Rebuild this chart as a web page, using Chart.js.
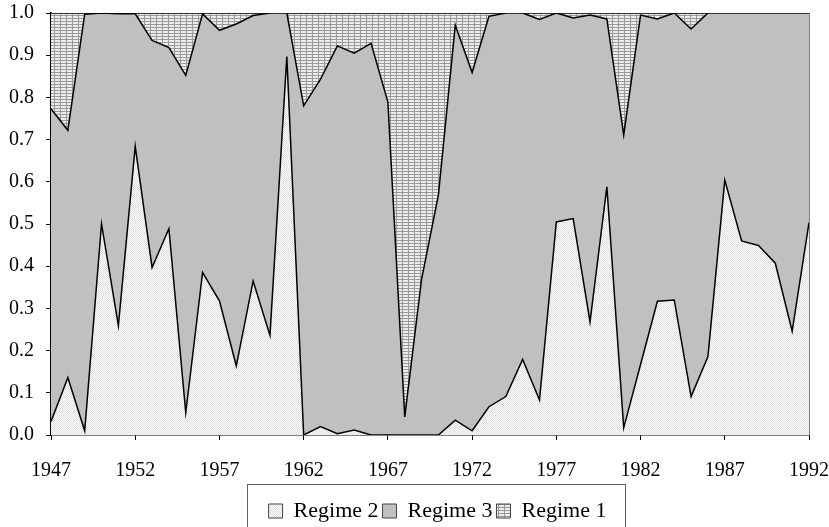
<!DOCTYPE html>
<html>
<head>
<meta charset="utf-8">
<script src="https://cdn.jsdelivr.net/npm/chart.js@4.4.1/dist/chart.umd.min.js"></script>
<style>
  html, body { margin: 0; padding: 0; background: #fff; }
  #wrap { width: 829px; height: 527px; }
</style>
</head>
<body>
<div id="wrap"><canvas id="regimeChart" width="829" height="527"></canvas></div>
<script>
// Regime probabilities by year (stacked to 1.0)
const years = [1947, 1948, 1949, 1950, 1951, 1952, 1953, 1954, 1955, 1956, 1957, 1958, 1959, 1960, 1961,
    1962, 1963, 1964, 1965, 1966, 1967, 1968, 1969, 1970, 1971, 1972, 1973, 1974, 1975, 1976,
    1977, 1978, 1979, 1980, 1981, 1982, 1983, 1984, 1985, 1986, 1987, 1988, 1989, 1990, 1991, 1992];

const regime2 = [0.032, 0.136, 0.010, 0.500, 0.259, 0.684, 0.397, 0.489, 0.053, 0.385, 0.318, 0.164, 0.365, 0.236, 0.897,
    0.000, 0.020, 0.003, 0.012, 0.000, 0.000, 0.000, 0.000, 0.000, 0.035, 0.010, 0.067, 0.091, 0.179, 0.083,
    0.505, 0.513, 0.268, 0.588, 0.017, 0.167, 0.317, 0.320, 0.091, 0.186, 0.604, 0.460, 0.449, 0.407, 0.246, 0.503];

const regime3 = [0.741, 0.586, 0.987, 0.500, 0.739, 0.314, 0.538, 0.429, 0.799, 0.613, 0.641, 0.810, 0.629, 0.764, 0.103,
    0.780, 0.823, 0.919, 0.893, 0.928, 0.789, 0.043, 0.369, 0.569, 0.936, 0.849, 0.925, 0.909, 0.821, 0.902,
    0.495, 0.475, 0.727, 0.398, 0.694, 0.828, 0.669, 0.680, 0.871, 0.814, 0.396, 0.540, 0.551, 0.593, 0.754, 0.497];

const regime1 = [0.227, 0.278, 0.003, 0.000, 0.002, 0.002, 0.065, 0.082, 0.148, 0.002, 0.041, 0.026, 0.006, 0.000, 0.000,
    0.220, 0.157, 0.078, 0.095, 0.072, 0.211, 0.957, 0.631, 0.431, 0.029, 0.141, 0.008, 0.000, 0.000, 0.015,
    0.000, 0.012, 0.005, 0.014, 0.289, 0.005, 0.014, 0.000, 0.038, 0.000, 0.000, 0.000, 0.000, 0.000, 0.000, 0.000];

const xTicks = [1947, 1952, 1957, 1962, 1967, 1972, 1977, 1982, 1987, 1992];
const yTicks = [0, 0.1, 0.2, 0.3, 0.4, 0.5, 0.6, 0.7, 0.8, 0.9, 1.0];

const FONT = "'Liberation Serif', 'Times New Roman', serif";

// small tile patterns to mimic the print-style fills
function makePattern(w, h, draw) {
    const c = document.createElement('canvas');
    c.width = w; c.height = h;
    const g = c.getContext('2d');
    draw(g);
    return g.createPattern(c, 'repeat');
}

const dotFill = makePattern(2, 2, g => {
    g.fillStyle = '#ffffff'; g.fillRect(0, 0, 2, 2);
    g.fillStyle = '#dcdcdc'; g.fillRect(0, 0, 1, 1); g.fillRect(1, 1, 1, 1);
});

const gridFill = makePattern(6, 3, g => {
    g.fillStyle = '#ececec'; g.fillRect(0, 0, 6, 3);
    g.fillStyle = '#9a9a9a'; g.fillRect(0, 0, 6, 1); g.fillRect(0, 0, 1, 3);
});

function toPoints(vals) {
    return years.map((y, i) => ({ x: y, y: vals[i] }));
}

// nudge the legend a bit right/down, like the original layout
const legendShift = {
    id: 'legendShift',
    afterLayout(chart) {
        const lg = chart.legend;
        lg.left += 23; lg.right += 23;
        lg.top += 5; lg.bottom += 5;
    }
};

// border round the legend + gray right edge of the plot
const frames = {
    id: 'frames',
    afterDraw(chart) {
        const ctx = chart.ctx;
        const a = chart.chartArea;
        ctx.save();
        ctx.strokeStyle = '#808080';
        ctx.lineWidth = 1;
        ctx.beginPath();
        ctx.moveTo(a.right + 0.5, a.top);
        ctx.lineTo(a.right + 0.5, a.bottom);
        ctx.stroke();

        const boxes = chart.legend.legendHitBoxes;
        if (boxes && boxes.length) {
            const left = Math.min(...boxes.map(b => b.left)) - 22;
            const right = Math.max(...boxes.map(b => b.left + b.width)) + 18;
            const mid = boxes[0].top + boxes[0].height / 2;
            const top = mid - 27;
            ctx.strokeStyle = '#606060';
            ctx.strokeRect(Math.round(left) + 0.5, Math.round(top) + 0.5, Math.round(right - left), 60);
        }
        ctx.restore();
    }
};

const ctx = document.getElementById('regimeChart').getContext('2d');

new Chart(ctx, {
    type: 'line',
    data: {
        datasets: [
            { label: 'Regime 2', data: toPoints(regime2), backgroundColor: dotFill, borderColor: '#000', borderWidth: 1.5, fill: 'origin' },
            { label: 'Regime 3', data: toPoints(regime3), backgroundColor: '#c0c0c0', borderColor: '#000', borderWidth: 1.5, fill: '-1' },
            { label: 'Regime 1', data: toPoints(regime1), backgroundColor: gridFill, borderColor: '#333', borderWidth: 2, fill: '-1' }
        ]
    },
    options: {
        responsive: false,
        animation: false,
        devicePixelRatio: 1,
        elements: {
            line: { tension: 0 },
            point: { radius: 0, hoverRadius: 0 }
        },
        layout: { padding: { left: 0, right: 0, top: 13, bottom: 0 } },
        plugins: {
            legend: {
                position: 'bottom',
                labels: {
                    font: { family: FONT, size: 22 },
                    color: '#000',
                    boxWidth: 14,
                    boxHeight: 14,
                    padding: 4,
                    generateLabels(chart) {
                        const items = Chart.defaults.plugins.legend.labels.generateLabels(chart);
                        items.forEach(it => { it.lineWidth = 1; it.strokeStyle = '#444'; });
                        return items;
                    }
                }
            },
            tooltip: { enabled: false }
        },
        scales: {
            x: {
                type: 'linear',
                min: years[0],
                max: years[years.length - 1],
                afterBuildTicks: scale => { scale.ticks = xTicks.map(v => ({ value: v })); },
                afterFit: scale => { scale.height = 56; scale.paddingLeft = 0; scale.paddingRight = 20; },
                grid: { drawOnChartArea: false, drawTicks: true, tickLength: 5, color: '#000' },
                border: { display: true, color: '#000', width: 1.5 },
                ticks: {
                    font: { family: FONT, size: 20 },
                    color: '#000',
                    padding: 19,
                    maxRotation: 0,
                    autoSkip: false,
                    callback: v => String(v)
                }
            },
            y: {
                stacked: true,
                min: 0,
                max: 1,
                afterBuildTicks: scale => { scale.ticks = yTicks.map(v => ({ value: v })); },
                afterFit: scale => { scale.width = 51; scale.paddingTop = 0; scale.paddingBottom = 0; },
                grid: { drawOnChartArea: false, drawTicks: true, tickLength: 5, color: '#000' },
                border: { display: true, color: '#000', width: 1.5 },
                ticks: {
                    font: { family: FONT, size: 20 },
                    color: '#000',
                    padding: 12,
                    callback: v => Number(v).toFixed(1)
                }
            }
        }
    },
    plugins: [legendShift, frames]
});
</script>
</body>
</html>
